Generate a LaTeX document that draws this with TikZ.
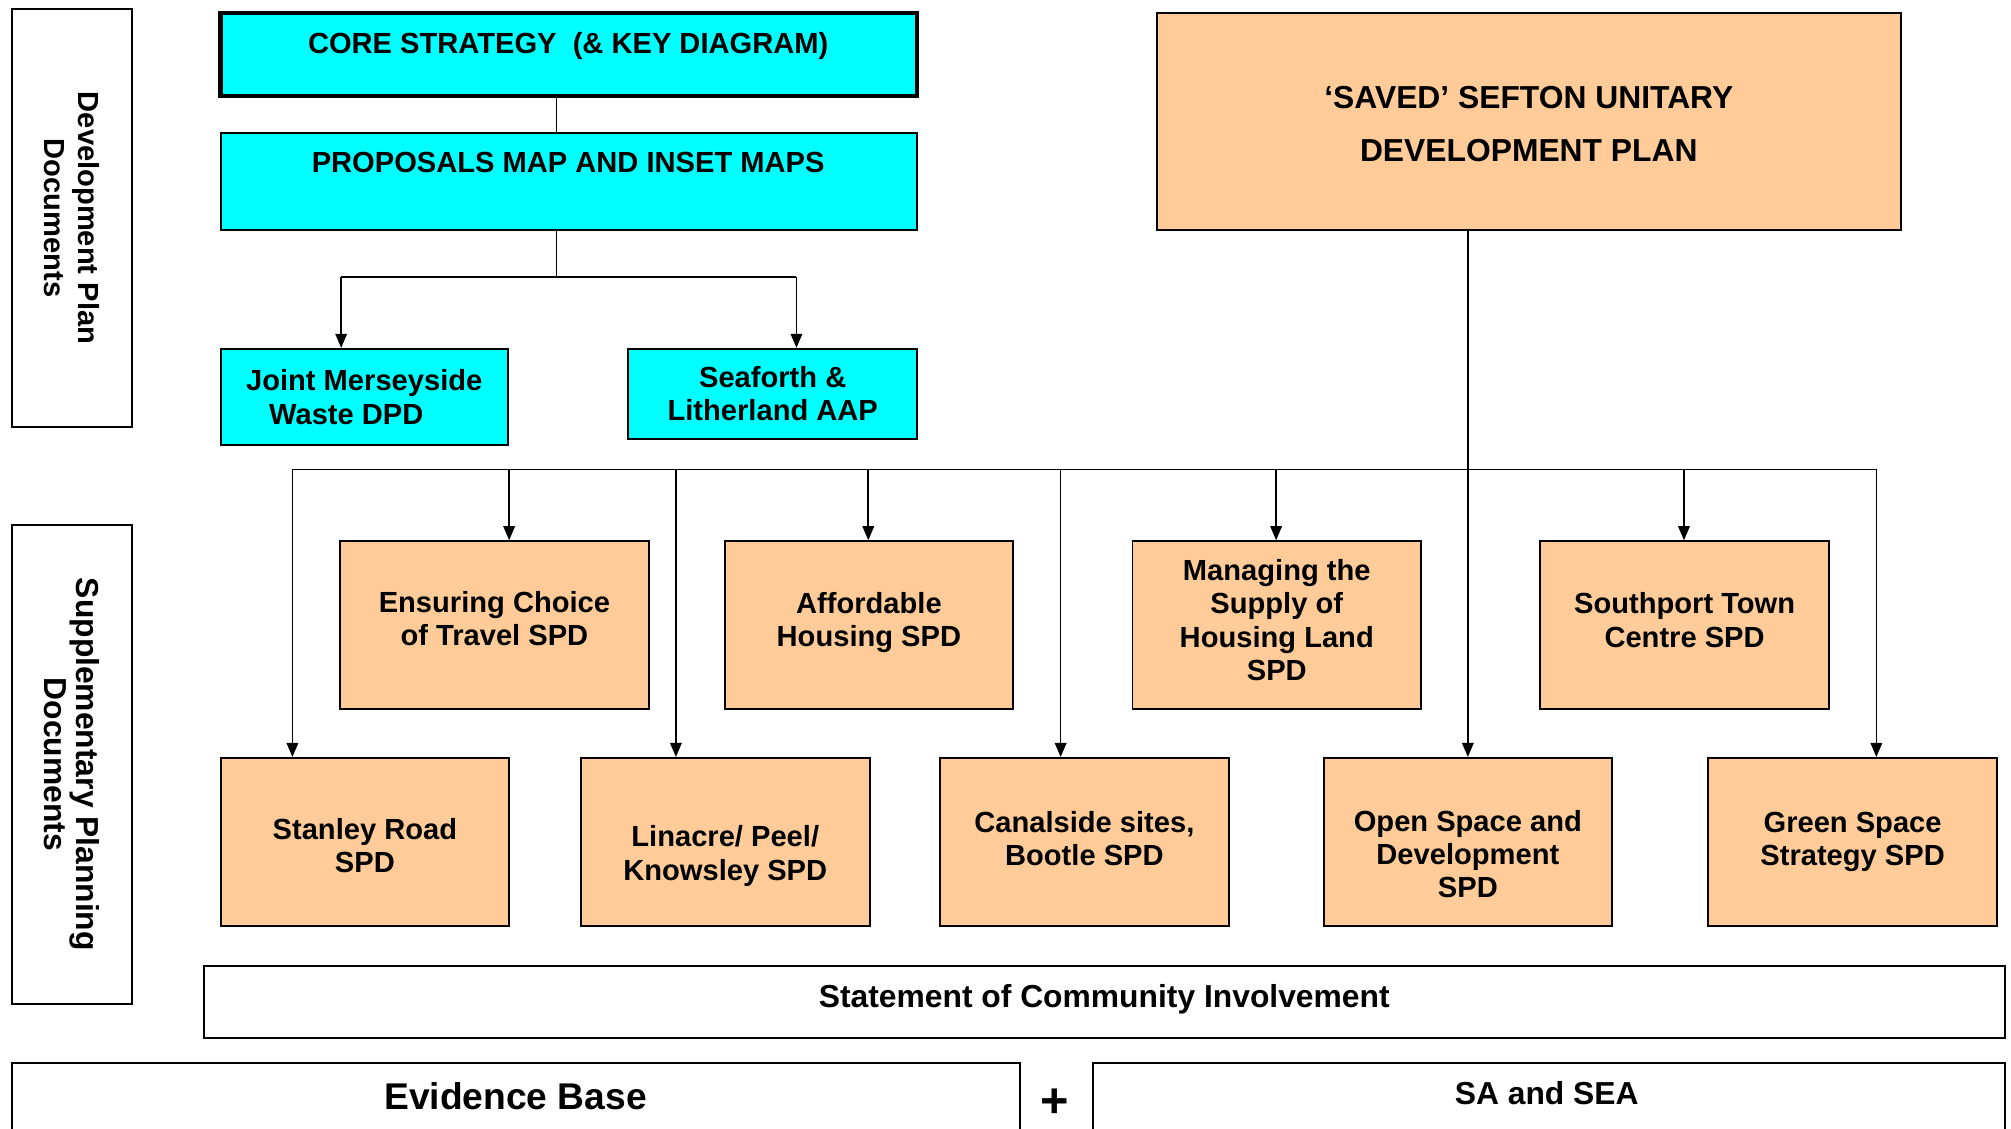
\documentclass[tikz,border=0pt]{standalone}
\usepackage{fontspec}
\setmainfont{Liberation Sans}
\usetikzlibrary{arrows.meta,positioning}
\definecolor{planblue}{HTML}{00FFFF}
\definecolor{spdpeach}{HTML}{FFCC99}

\begin{document}
\begin{tikzpicture}[x=1pt,y=-1pt,
    every node/.style={font=\bfseries\fontsize{22.7}{26}\selectfont,align=center,inner sep=0pt},
    box/.style={draw,line width=1.5pt,minimum width=225,minimum height=131},
    dpd/.style={box,fill=planblue},
    spd/.style={box,fill=spdpeach},
    side/.style={draw,line width=1.5pt,rotate=-90,minimum height=94},
    bigtext/.style={font=\bfseries\fontsize{24.8}{41}\selectfont},
    hugetext/.style={font=\bfseries\fontsize{29}{32}\selectfont}]
	\useasboundingbox (0,0) rectangle (1568,880);
	\clip (0,0) rectangle (1568,880);

	\node[side,minimum width=326] (devlab) at (56,170) {Development Plan\\Documents};
	\node[side,minimum width=374,font=\bfseries\fontsize{24.8}{25}\selectfont] (suplab) at (56,596) {Supplementary Planning\\Documents};

	\begin{scope}
		\node[dpd,line width=3.5pt,minimum width=543,minimum height=65] (core) at (443.5,42.5) {};
		\node (coretxt) at (443,36) {CORE STRATEGY\ \ (\& KEY DIAGRAM)};
		\node[dpd,minimum width=543,minimum height=75] (prop) at (443.5,141.5) {};
		\node (proptxt) at (443,127) {PROPOSALS MAP AND INSET MAPS};
		\node[dpd,minimum width=224,minimum height=75] (joint) at (284,309.5) {Joint Merseyside\\Waste DPD\hspace*{28pt}};
		\node[dpd,minimum height=70] (seaforth) at (602.5,307) {Seaforth \&\\Litherland AAP};
		\node[spd,minimum width=580,minimum height=169] (saved) at (1192,94.5) {};
		\node[bigtext] (savedtxt) at (1192,96.5) {‘SAVED’ SEFTON UNITARY\\DEVELOPMENT PLAN};
	\end{scope}

	\begin{scope}
		\node[spd,minimum width=241] (ensuring) at (385.5,487.5) {};
		\node (ensuringtxt) at (385.5,482.5) {Ensuring Choice\\of Travel SPD};
		\node[spd] (afford) at (677.5,487.5) {};
		\node (affordtxt) at (677.5,485.5) {Affordable\\Housing SPD};
		\node[spd] (managing) at (995.5,487.5) {};
		\node (managingtxt) at (995.5,483.5) {Managing the\\Supply of\\Housing Land\\SPD};
		\node[spd] (southport) at (1313.5,487.5) {};
		\node (southporttxt) at (1313.5,483.5) {Southport Town\\Centre SPD};
		\node[spd] (stanley) at (284.5,656.5) {};
		\node (stanleytxt) at (284.5,659.5) {Stanley Road\\SPD};
		\node[spd] (linacre) at (565.5,656.5) {};
		\node (linacretxt) at (565.5,667.5) {Linacre/ Peel/\\Knowsley SPD};
		\node[spd] (canal) at (845.5,656.5) {};
		\node (canaltxt) at (845.5,654) {Canalside sites,\\Bootle SPD};
		\node[spd] (open) at (1144.5,656.5) {};
		\node (opentxt) at (1144.5,666) {Open Space and\\Development\\SPD};
		\node[spd] (green) at (1444.5,656.5) {};
		\node (greentxt) at (1444.5,656.5) {Green Space\\Strategy SPD};
	\end{scope}

	\node[box,minimum width=1404,minimum height=56] (sci) at (861,781) {};
	\node[bigtext] (scitxt) at (861,779) {Statement of Community Involvement};
	\node[box,anchor=north,minimum width=786,minimum height=100] (evidence) at (402,828) {};
	\node[hugetext] (evtxt) at (402,855) {Evidence Base};
	\node[box,anchor=north,minimum width=711,minimum height=100] (sea) at (1207.5,828) {};
	\node[bigtext] (seatxt) at (1206,852) {SA and SEA};
	\node[font=\bfseries\fontsize{38}{38}\selectfont,anchor=base] (plus) at (822,871.5) {+};

	\begin{scope}[line width=1.3pt,>={Triangle[length=11pt,width=9pt]}]
		\coordinate (split) at (434,216);
		\coordinate (tojoint) at (266,216);
		\coordinate (tosea) at (621,216);
		\draw (split |- core.south) -- (split |- prop.north);
		\draw (split |- prop.south) -- (split);
		\draw (tojoint) -- (tosea);
		\draw[->] (tojoint) -- (tojoint |- joint.north);
		\draw[->] (tosea) -- (tosea |- seaforth.north);

		\coordinate (busl) at (228,366);
		\coordinate (busr) at (1463,366);
		\draw (busl) -- (busr);
		\draw[->] (saved.south -| open.north) -- (open.north);
		\foreach \x/\b in {228/stanley,397/ensuring,527/linacre,677/afford,827/canal,995/managing,1313/southport,1463/green} {
			\coordinate (drop-\b) at (\x,366);
			\draw[->] (drop-\b) -- (drop-\b |- \b.north);
		}
	\end{scope}
\end{tikzpicture}
\end{document}
